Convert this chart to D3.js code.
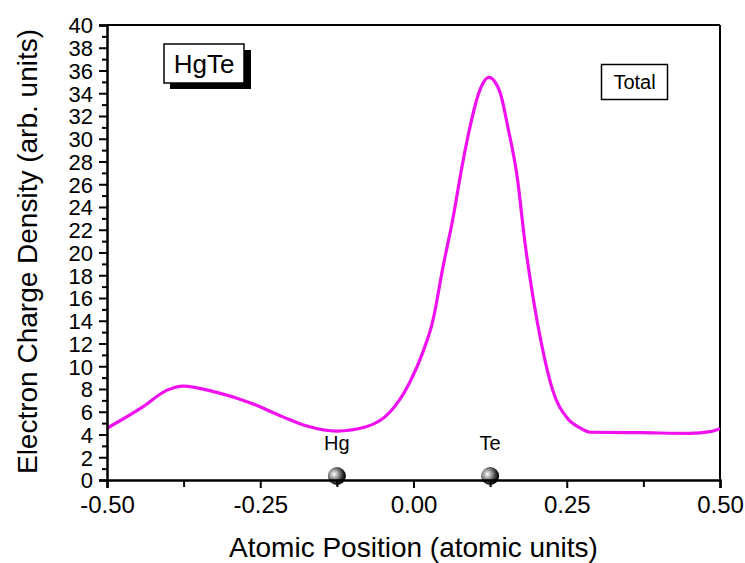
<!DOCTYPE html>
<html>
<head>
<meta charset="utf-8">
<script src="https://cdn.jsdelivr.net/npm/d3@7"></script>
<style>
  html, body { margin: 0; padding: 0; background: #fff; }
  text { font-family: "Liberation Sans", Arial, sans-serif; }
</style>
</head>
<body>
<svg id="chart" width="745" height="563"></svg>
<script>
// ---- data ----
const positions = [-0.500, -0.441, -0.402, -0.376, -0.321, -0.267, -0.213, -0.174, -0.125, -0.076, -0.038, -0.006, 0.015, 0.032, 0.048, 0.064, 0.081, 0.092, 0.107, 0.123, 0.141, 0.154, 0.169, 0.182, 0.194, 0.211, 0.227, 0.250, 0.271, 0.288, 0.370, 0.451, 0.484, 0.500];
const density   = [4.55, 6.45, 7.9, 8.26, 7.7, 6.8, 5.55, 4.75, 4.3, 4.7, 6.0, 8.6, 11.2, 14.1, 18.7, 22.9, 28.1, 31.0, 34.1, 35.4, 34.1, 31.0, 26.7, 20.8, 16.4, 11.4, 7.9, 5.5, 4.6, 4.2, 4.16, 4.1, 4.25, 4.5];
const atomNames = ["Hg", "Te"];
const atomPositions = [-0.125, 0.125];
const xTicks = [-0.5, -0.25, 0, 0.25, 0.5];
const xMinorTicks = [-0.375, -0.125, 0.125, 0.375];
const yTicks = d3.range(0, 41, 2);
const yMinorTicks = d3.range(1, 40, 2);
const xTitle = "Atomic Position (atomic units)";
const yTitle = "Electron Charge Density (arb. units)";
const compoundLabel = "HgTe";
const curveLabel = "Total";

// ---- layout ----
const svg = d3.select("#chart");
const L = 107, R = 720, T = 25, B = 480;
const x = d3.scaleLinear().domain([-0.5, 0.5]).range([L, R]);
const y = d3.scaleLinear().domain([0, 40]).range([B, T]);

// gradient for atoms
const defs = svg.append("defs");
const grad = defs.append("radialGradient").attr("id", "ball")
  .attr("cx", "35%").attr("cy", "40%").attr("r", "65%");
grad.append("stop").attr("offset", "0%").attr("stop-color", "#ffffff");
grad.append("stop").attr("offset", "35%").attr("stop-color", "#a0a0a0");
grad.append("stop").attr("offset", "75%").attr("stop-color", "#303030");
grad.append("stop").attr("offset", "100%").attr("stop-color", "#000000");

// frame top & right
svg.append("line").attr("x1", L).attr("x2", R).attr("y1", T).attr("y2", T)
  .attr("stroke", "#000").attr("stroke-width", 2);
svg.append("line").attr("x1", R).attr("x2", R).attr("y1", T).attr("y2", B)
  .attr("stroke", "#000").attr("stroke-width", 2);

// curve
const line = d3.line().x((d, i) => x(positions[i])).y(d => y(d)).curve(d3.curveMonotoneX);
svg.append("path").datum(density).attr("d", line)
  .attr("fill", "none").attr("stroke", "#f010f0").attr("stroke-width", 3.2)
  .attr("stroke-linejoin", "round");

// atoms
const atoms = svg.append("g");
atomPositions.forEach((p, i) => {
  atoms.append("circle").attr("cx", x(p)).attr("cy", B - 4).attr("r", 9)
    .attr("fill", "url(#ball)");
  atoms.append("text").attr("x", x(p)).attr("y", B - 30)
    .attr("text-anchor", "middle").attr("font-size", 20).attr("fill", "#000").text(atomNames[i]);
});

// x axis
const xAxis = svg.append("g").attr("transform", `translate(0,${B})`)
  .call(d3.axisBottom(x).tickValues(xTicks).tickFormat(d => d.toFixed(2)).tickSize(8).tickPadding(8));
svg.append("g").attr("transform", `translate(0,${B})`)
  .call(d3.axisBottom(x).tickValues(xMinorTicks).tickFormat("").tickSize(7))
  .call(g => g.select(".domain").remove());
// y axis
const yAxis = svg.append("g").attr("transform", `translate(${L},0)`)
  .call(d3.axisLeft(y).tickValues(yTicks).tickFormat(d => String(d)).tickSize(8).tickPadding(6));
svg.append("g").attr("transform", `translate(${L},0)`)
  .call(d3.axisLeft(y).tickValues(yMinorTicks).tickFormat("").tickSize(5))
  .call(g => g.select(".domain").remove());

svg.selectAll(".domain").attr("stroke", "#000").attr("stroke-width", 2.5);
svg.selectAll(".tick line").attr("stroke", "#000").attr("stroke-width", 2);
xAxis.selectAll(".tick text").attr("font-size", 24).attr("fill", "#000")
  .attr("font-family", "Liberation Sans, Arial, sans-serif");
yAxis.selectAll(".tick text").attr("font-size", 22).attr("fill", "#000")
  .attr("font-family", "Liberation Sans, Arial, sans-serif").attr("dy", "0.36em");

// axis titles
svg.append("text").attr("x", (L + R) / 2).attr("y", 557)
  .attr("text-anchor", "middle").attr("font-size", 28).attr("fill", "#000").text(xTitle);
svg.append("text").attr("transform", `translate(37,${(T + B) / 2 - 1}) rotate(-90)`)
  .attr("text-anchor", "middle").attr("font-size", 28).attr("fill", "#000").text(yTitle);

// HgTe box with shadow
svg.append("rect").attr("x", 170).attr("y", 50).attr("width", 81).attr("height", 39).attr("fill", "#000");
svg.append("rect").attr("x", 164).attr("y", 44).attr("width", 80).attr("height", 39)
  .attr("fill", "#fff").attr("stroke", "#000").attr("stroke-width", 1.5);
svg.append("text").attr("x", 204).attr("y", 73).attr("text-anchor", "middle")
  .attr("font-size", 26).attr("fill", "#000").text(compoundLabel);

// Total box
svg.append("rect").attr("x", 601.5).attr("y", 64.5).attr("width", 66).attr("height", 35)
  .attr("fill", "#fff").attr("stroke", "#000").attr("stroke-width", 1.5);
svg.append("text").attr("x", 634.5).attr("y", 89).attr("text-anchor", "middle")
  .attr("font-size", 20).attr("fill", "#000").text(curveLabel);
</script>
</body>
</html>
